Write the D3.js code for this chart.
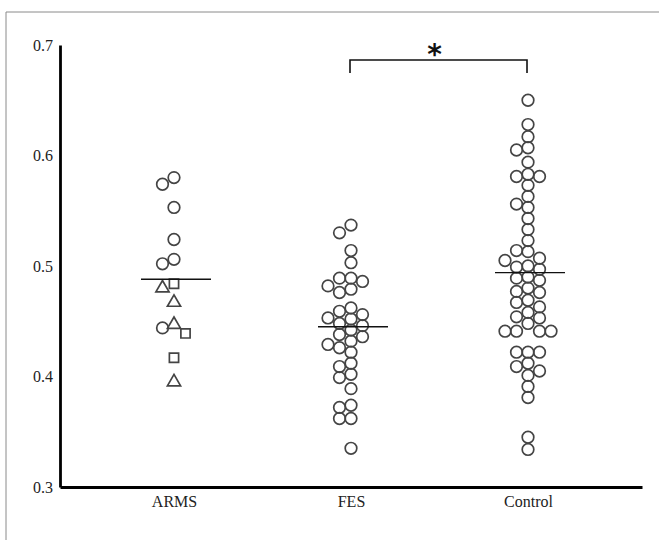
<!DOCTYPE html>
<html>
<head>
<meta charset="utf-8">
<script src="https://cdn.jsdelivr.net/npm/d3@7"></script>
<style>
  html, body { margin: 0; padding: 0; background: #fff; }
  svg { display: block; }
</style>
</head>
<body>
<svg id="chart" width="659" height="540"></svg>
<script>
// ---------- DATA ----------
const categories = ["ARMS", "FES", "Control"];
const yTicks = [0.3, 0.4, 0.5, 0.6, 0.7];

// ARMS subgroups by marker shape
const armsCircles   = [0.580, 0.574, 0.553, 0.524, 0.506, 0.502, 0.444];
const armsSquares   = [0.484, 0.439, 0.417];
const armsTriangles = [0.480, 0.467, 0.447, 0.395];

const fesValues = [0.537, 0.530, 0.514, 0.503, 0.489, 0.489, 0.486, 0.482, 0.479, 0.476,
                   0.462, 0.459, 0.456, 0.453, 0.452, 0.448, 0.446, 0.442,
                   0.438, 0.436, 0.432, 0.429, 0.426, 0.422,
                   0.412, 0.409, 0.402, 0.399, 0.389,
                   0.374, 0.372, 0.362, 0.362, 0.335];

const controlValues = [0.650, 0.628, 0.617, 0.607, 0.605, 0.594, 0.583, 0.581, 0.581, 0.573,
                       0.563, 0.556, 0.553, 0.543, 0.533, 0.523, 0.514, 0.513, 0.507, 0.505,
                       0.500, 0.499, 0.497, 0.490, 0.489, 0.487, 0.480, 0.477, 0.476, 0.469,
                       0.467, 0.463, 0.458, 0.454, 0.453, 0.448, 0.441, 0.441, 0.441, 0.441,
                       0.422, 0.422, 0.422, 0.412, 0.409, 0.405, 0.401, 0.391, 0.381, 0.345, 0.334];

// group means (horizontal bars)
const groupMeans = [0.488, 0.445, 0.494];

// significance bracket
const sigPair = ["FES", "Control"];
const sigLabel = "*";

// ---------- CHART ----------
const svg = d3.select("#chart");
const W = 659, H = 540;
const mL = 60, mR = 642, mT = 45, mB = 487;

// frame
svg.append("path")
  .attr("d", `M6,${H} V12 H${W}`)
  .attr("fill", "none").attr("stroke", "#8a8a8a").attr("stroke-width", 1);

const y = d3.scaleLinear().domain([0.3, 0.7]).range([mB, mT]);
const x = d3.scalePoint().domain(categories).range([mL, mR]).padding(0.644);

const serif = '"Liberation Serif", "DejaVu Serif", serif';

// y axis
const gy = svg.append("g").attr("transform", `translate(${mL},0)`)
  .call(d3.axisLeft(y).tickValues(yTicks).tickFormat(d3.format(".1f")).tickSize(0).tickPadding(7));
gy.select(".domain").attr("stroke", "#000").attr("stroke-width", 2.8);
gy.selectAll(".tick text").attr("font-size", 16).attr("font-family", serif).attr("fill", "#222");

// x axis
const gx = svg.append("g").attr("transform", `translate(0,${mB})`)
  .call(d3.axisBottom(x).tickSize(0).tickPadding(9));
gx.select(".domain").attr("stroke", "#000").attr("stroke-width", 2.8);
gx.selectAll(".tick text").attr("font-size", 16).attr("font-family", serif).attr("fill", "#222");

// beeswarm placement on a quantized grid
const step = 11.5, minDist = 10;
function swarm(points) {
  const sorted = points.slice().sort((a, b) => b.v - a.v);
  const placed = [];
  sorted.forEach(p => {
    const py = y(p.v);
    const cands = [0, -1, 1, -2, 2, -3, 3];
    p.px = 0; p.py = py;
    for (const k of cands) {
      const px = k * step;
      const ok = placed.every(q => Math.hypot(q.px - px, q.py - py) >= minDist);
      if (ok) { p.px = px; break; }
    }
    placed.push(p);
  });
  return placed;
}

const armsPts = [
  ...armsCircles.map(v => ({v, shape: "circle"})),
  ...armsSquares.map(v => ({v, shape: "square"})),
  ...armsTriangles.map(v => ({v, shape: "triangle"}))
];
const groups = [
  {cat: "ARMS", pts: swarm(armsPts)},
  {cat: "FES", pts: swarm(fesValues.map(v => ({v, shape: "circle"})))},
  {cat: "Control", pts: swarm(controlValues.map(v => ({v, shape: "circle"})))}
];

const symCircle = d3.symbol().type(d3.symbolCircle).size(Math.PI * 5.8 * 5.8);
const symSquare = d3.symbol().type(d3.symbolSquare).size(85);
const symTri = d3.symbol().type(d3.symbolTriangle).size(75);
const symFor = s => s === "circle" ? symCircle() : s === "square" ? symSquare() : symTri();

groups.forEach(g => {
  const cx = x(g.cat);
  svg.append("g").selectAll("path").data(g.pts).join("path")
    .attr("d", d => symFor(d.shape))
    .attr("transform", d => `translate(${cx + d.px},${d.py})`)
    .attr("fill", "none")
    .attr("stroke", "#444")
    .attr("stroke-width", 1.7);
});

// mean bars
svg.append("g").selectAll("line").data(categories).join("line")
  .attr("x1", d => x(d) - 33).attr("x2", d => x(d) + 37)
  .attr("y1", (d, i) => y(groupMeans[i])).attr("y2", (d, i) => y(groupMeans[i]))
  .attr("stroke", "#111").attr("stroke-width", 1.4);

// significance bracket
const bx1 = x(sigPair[0]) - 1, bx2 = x(sigPair[1]) - 1, by = 60;
svg.append("path")
  .attr("d", `M${bx1},${by + 13} V${by} H${bx2} V${by + 13}`)
  .attr("fill", "none").attr("stroke", "#111").attr("stroke-width", 1.6);
svg.append("text")
  .attr("x", (bx1 + bx2) / 2 - 4).attr("y", by + 4)
  .attr("text-anchor", "middle")
  .attr("font-family", '"DejaVu Sans", sans-serif').attr("font-size", 28)
  .attr("font-weight", "bold")
  .attr("fill", "#111")
  .text(sigLabel);
</script>
</body>
</html>
